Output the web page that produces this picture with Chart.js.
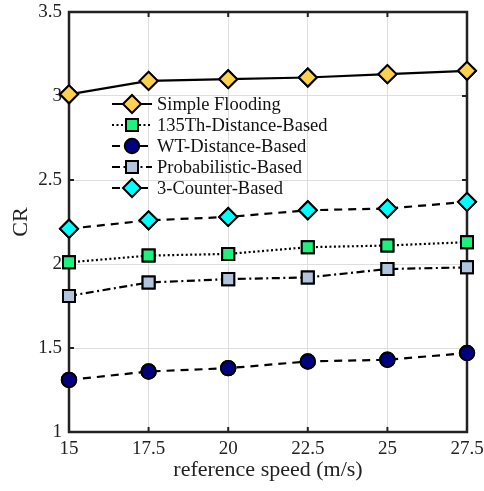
<!DOCTYPE html>
<html><head><meta charset="utf-8">
<script src="https://cdn.jsdelivr.net/npm/chart.js@4"></script>
<style>html,body{margin:0;padding:0;background:#fff}#wrap{width:484px;height:491px}</style>
</head><body><div id="wrap"><canvas id="c" width="484" height="491"></canvas></div>
<script>
const speeds = [15, 17.5, 20, 22.5, 25, 27.5];
const simpleFlooding = [3.01, 3.09, 3.10, 3.11, 3.13, 3.15];
const th135Distance = [2.01, 2.05, 2.06, 2.10, 2.11, 2.13];
const wtDistance = [1.31, 1.36, 1.38, 1.42, 1.43, 1.47];
const probabilistic = [1.81, 1.89, 1.91, 1.92, 1.97, 1.98];
const counter3 = [2.21, 2.26, 2.28, 2.32, 2.33, 2.37];
const seriesNames = ['Simple Flooding','135Th-Distance-Based','WT-Distance-Based','Probabilistic-Based','3-Counter-Based'];
const xTicks = [15, 17.5, 20, 22.5, 25, 27.5];
const yTicks = [1, 1.5, 2, 2.5, 3, 3.5];

const FONT = '"Liberation Serif", "Times New Roman", serif';
function mk(name, vals, color, style, radius, dash) {
  return {
    label: name,
    data: speeds.map((s, i) => ({x: s, y: vals[i]})),
    borderColor: '#000', borderWidth: 2.2, borderDash: dash,
    pointStyle: style, pointRadius: radius, pointHoverRadius: radius,
    pointBackgroundColor: color, pointBorderColor: '#000', pointBorderWidth: 2,
    clip: false, tension: 0
  };
}
const datasets = [
  mk(seriesNames[0], simpleFlooding, '#FDD04E', 'rectRot', 9, []),
  mk(seriesNames[1], th135Distance, '#1EF27E', 'rect', 8.5, [2, 2.5]),
  mk(seriesNames[2], wtDistance, '#000080', 'circle', 7.2, [8, 6]),
  mk(seriesNames[3], probabilistic, '#B0C4DE', 'rect', 8.5, [8, 3.5, 2, 3.5]),
  mk(seriesNames[4], counter3, '#00FFFF', 'rectRot', 9, [8, 6])
];

const boxPlugin = {
  id: 'boxPlugin',
  afterDatasetsDraw(chart) {
    const ctx = chart.ctx, a = chart.chartArea;
    const xs = chart.scales.x, ys = chart.scales.y;
    ctx.save();
    ctx.strokeStyle = '#222'; ctx.lineWidth = 2;
    ctx.setLineDash([]);
    ctx.beginPath();
    xTicks.forEach(t => { const p = xs.getPixelForValue(t);
      ctx.moveTo(p, a.bottom); ctx.lineTo(p, a.bottom - 5);
      ctx.moveTo(p, a.top); ctx.lineTo(p, a.top + 5); });
    yTicks.forEach(t => { const p = ys.getPixelForValue(t);
      ctx.moveTo(a.left, p); ctx.lineTo(a.left + 5, p);
      ctx.moveTo(a.right, p); ctx.lineTo(a.right - 5, p); });
    ctx.stroke();
    ctx.lineWidth = 2.5;
    ctx.strokeRect(a.left, a.top, a.right - a.left, a.bottom - a.top);
    chart.data.datasets.forEach((ds, i) => {
      const meta = chart.getDatasetMeta(i);
      meta.data.forEach(pt => pt.draw(ctx, undefined));
    });
    // legend
    const lx = 112, ly = 104, dy = 21;
    ctx.font = '18.5px ' + FONT; ctx.textBaseline = 'middle';
    chart.data.datasets.forEach((ds, i) => {
      const y = ly + i * dy;
      ctx.strokeStyle = '#000'; ctx.lineWidth = ds.borderWidth;
      ctx.setLineDash(ds.borderDash);
      ctx.beginPath(); ctx.moveTo(lx, y); ctx.lineTo(lx + 40, y); ctx.stroke();
      ctx.setLineDash([]);
      ctx.fillStyle = ds.pointBackgroundColor; ctx.strokeStyle = '#000'; ctx.lineWidth = ds.pointBorderWidth;
      Chart.helpers.drawPoint(ctx, {pointStyle: ds.pointStyle, radius: ds.pointRadius, rotation: 0, borderWidth: ds.pointBorderWidth}, lx + 20, y);
      ctx.fillStyle = '#111';
      ctx.fillText(ds.label, lx + 45, y + 1);
    });
    ctx.restore();
  }
};

new Chart(document.getElementById('c'), {
  type: 'line',
  data: { datasets },
  options: {
    responsive: false, animation: false, maintainAspectRatio: false,
    layout: { padding: { left: 0, right: 17, top: 12, bottom: 0 } },
    plugins: { legend: { display: false }, tooltip: { enabled: false } },
    scales: {
      x: {
        type: 'linear', min: 15, max: 27.5,
        afterBuildTicks: s => { s.ticks = xTicks.map(v => ({value: v})); },
        afterFit: s => { s.height = 59; s.paddingLeft = 0; s.paddingRight = 0; },
        grid: { color: '#dedede', lineWidth: 1, drawTicks: false },
        border: { display: false },
        ticks: { font: { family: FONT, size: 19 }, color: '#222', padding: 6, maxRotation: 0, autoSkip: false, callback: v => String(v) },
        title: { display: true, text: 'reference speed (m/s)', font: { family: FONT, size: 22 }, color: '#222', padding: { top: 0, bottom: 8 } }
      },
      y: {
        type: 'linear', min: 1, max: 3.5,
        afterBuildTicks: s => { s.ticks = yTicks.map(v => ({value: v})); },
        afterFit: s => { s.width = 69; s.paddingTop = 0; s.paddingBottom = 0; },
        grid: { color: '#dedede', lineWidth: 1, drawTicks: false },
        border: { display: false },
        ticks: { font: { family: FONT, size: 19 }, color: '#222', padding: 7, callback: v => String(v) },
        title: { display: true, text: 'CR', font: { family: FONT, size: 22 }, color: '#222', padding: { top: 8, bottom: 0 } }
      }
    }
  },
  plugins: [boxPlugin]
});
</script></body></html>
